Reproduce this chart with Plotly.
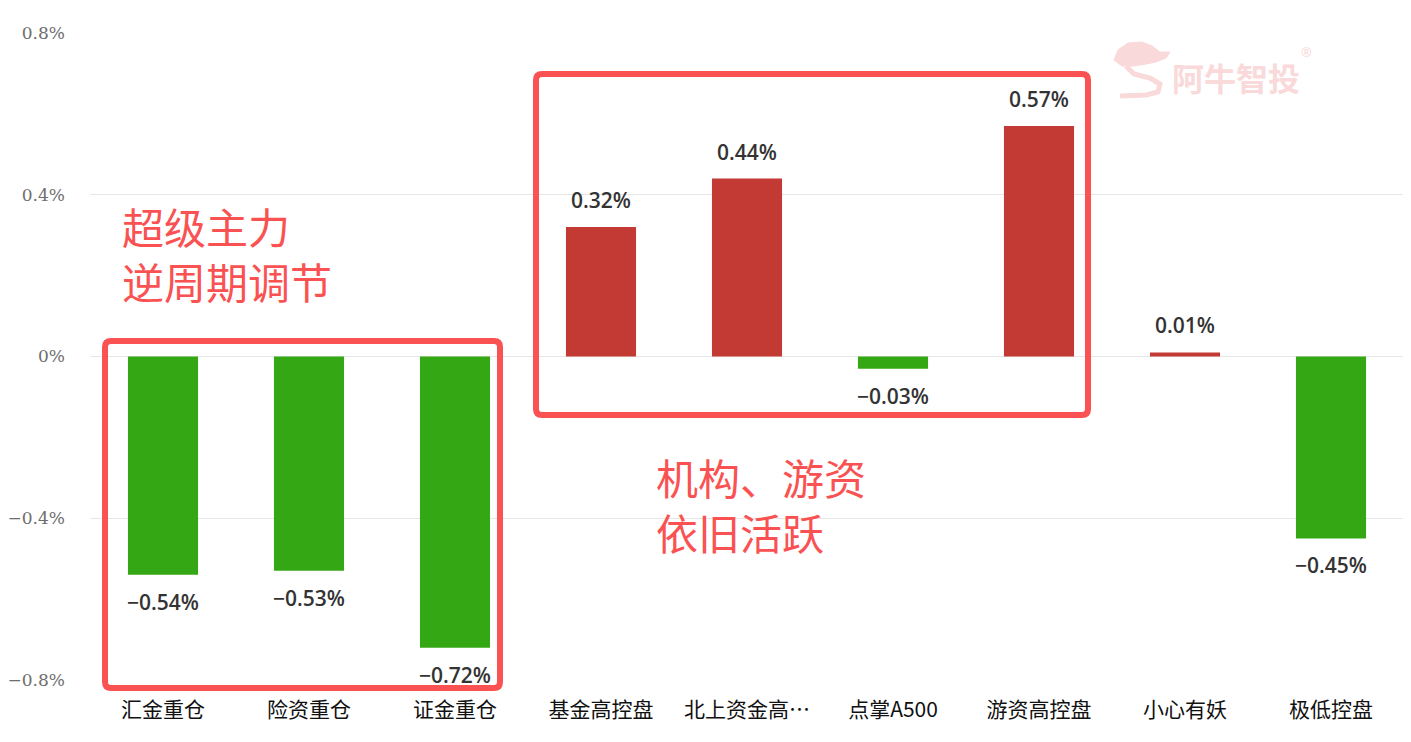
import plotly.graph_objects as go

categories = ["汇金重仓", "险资重仓", "证金重仓", "基金高控盘", "北上资金高…",
              "点掌A500", "游资高控盘", "小心有妖", "极低控盘"]
values = [-0.54, -0.53, -0.72, 0.32, 0.44, -0.03, 0.57, 0.01, -0.45]
tick_vals = [-0.8, -0.4, 0, 0.4, 0.8]
tick_text = ["−0.8%", "−0.4%", "0%", "0.4%", "0.8%"]

RED = "#c23a33"
GREEN = "#34a814"
NOTE = "#fa5252"
WM = "#f9d9d9"

W, H = 1411, 742
ML, MR, MT, MB = 82, 15, 25, 70
PW, PH = W - ML - MR, H - MT - MB


def px(wx, wy):
    # window pixel -> paper coords (page has an 8px body margin)
    return (wx - 8 - ML) / PW, 1 - (wy - 8 - MT) / PH


x_idx = list(range(len(categories)))
colors = [RED if v >= 0 else GREEN for v in values]

fig = go.Figure()
fig.add_trace(go.Bar(
    x=x_idx, y=values, marker=dict(color=colors, line=dict(width=0)),
    width=0.48, hoverinfo="skip",
))

for i, v in zip(x_idx, values):
    txt = f"{v:.2f}%".replace("-", "−")
    fig.add_annotation(
        x=i, y=v, text=txt, showarrow=False,
        yanchor="bottom" if v >= 0 else "top",
        yshift=11 if v >= 0 else -11,
        font=dict(family="Open Sans", size=21, color="#333333", weight=600),
    )


def rounded_rect(a, b, r=6):
    (x0, y0), (x1, y1) = px(*a), px(*b)
    rx, ry = r / PW, r / PH
    return (f"M {x0+rx},{y0} L {x1-rx},{y0} Q {x1},{y0} {x1},{y0-ry} "
            f"L {x1},{y1+ry} Q {x1},{y1} {x1-rx},{y1} "
            f"L {x0+rx},{y1} Q {x0},{y1} {x0},{y1+ry} "
            f"L {x0},{y0-ry} Q {x0},{y0} {x0+rx},{y0} Z")


fig.add_shape(type="path", path=rounded_rect((105, 341), (500, 688)),
              xref="paper", yref="paper", line=dict(color=NOTE, width=6), layer="above")
fig.add_shape(type="path", path=rounded_rect((536, 74), (1088, 415)),
              xref="paper", yref="paper", line=dict(color=NOTE, width=6), layer="above")

fig.add_annotation(x=-0.295, y=0.255, xanchor="left", yanchor="middle",
                   text="超级主力<br>逆周期调节", showarrow=False, align="left",
                   font=dict(family="Noto Sans CJK SC", size=42, color=NOTE))
fig.add_annotation(x=3.36, y=-0.365, xanchor="left", yanchor="middle",
                   text="机构、游资<br>依旧活跃", showarrow=False, align="left",
                   font=dict(family="Noto Sans CJK SC", size=42, color=NOTE))

# watermark
wx, wy = px(1236, 77)
fig.add_annotation(x=wx, y=wy, xref="paper", yref="paper", xanchor="center", yanchor="middle",
                   text="<b>阿牛智投</b>", showarrow=False,
                   font=dict(family="Noto Sans CJK SC", size=32, color=WM))
rx_, ry_ = px(1306, 52)
fig.add_annotation(x=rx_, y=ry_, xref="paper", yref="paper", xanchor="center", yanchor="middle",
                   text="®", showarrow=False,
                   font=dict(family="Noto Sans", size=13, color=WM))


def pth(points, close=False):
    s = ""
    for k, (a, b) in enumerate(points):
        X, Y = px(a, b)
        s += ("M " if k == 0 else "L ") + f"{X},{Y} "
    return s + ("Z" if close else "")


# logo: head blob + swirl tail
fig.add_shape(type="path", xref="paper", yref="paper", layer="below",
              path=pth([(1118, 50), (1128, 43), (1142, 42), (1152, 46), (1160, 52),
                        (1170, 52), (1166, 58), (1156, 62), (1146, 64), (1134, 66),
                        (1122, 66), (1114, 60)], close=True),
              fillcolor=WM, line=dict(color=WM, width=1))
fig.add_shape(type="path", xref="paper", yref="paper", layer="below",
              path=pth([(1126, 66), (1134, 74), (1150, 78), (1160, 84), (1158, 92),
                        (1146, 95), (1120, 96)]),
              line=dict(color=WM, width=5))

fig.update_layout(
    width=W, height=H,
    margin=dict(l=ML, r=MR, t=MT, b=MB, autoexpand=False),
    paper_bgcolor="white", plot_bgcolor="white",
    showlegend=False,
    xaxis=dict(
        tickmode="array", tickvals=x_idx, ticktext=categories,
        range=[-0.5, len(categories) - 0.5], automargin=False,
        showgrid=False, zeroline=False, showline=False, ticks="",
        ticklabelstandoff=15,
        tickfont=dict(family="Noto Sans CJK SC", size=21, color="#111111"),
    ),
    yaxis=dict(
        range=[-0.8, 0.8], tickmode="array", tickvals=tick_vals, ticktext=tick_text,
        automargin=False,
        showgrid=True, gridcolor="#e6e6e6", gridwidth=1,
        zeroline=True, zerolinecolor="#e6e6e6", zerolinewidth=1,
        showline=False, ticks="", ticklabelstandoff=24,
        tickfont=dict(family="DejaVu Serif", size=17, color="#6e6e6e"),
    ),
)

fig.write_html("out.html")
